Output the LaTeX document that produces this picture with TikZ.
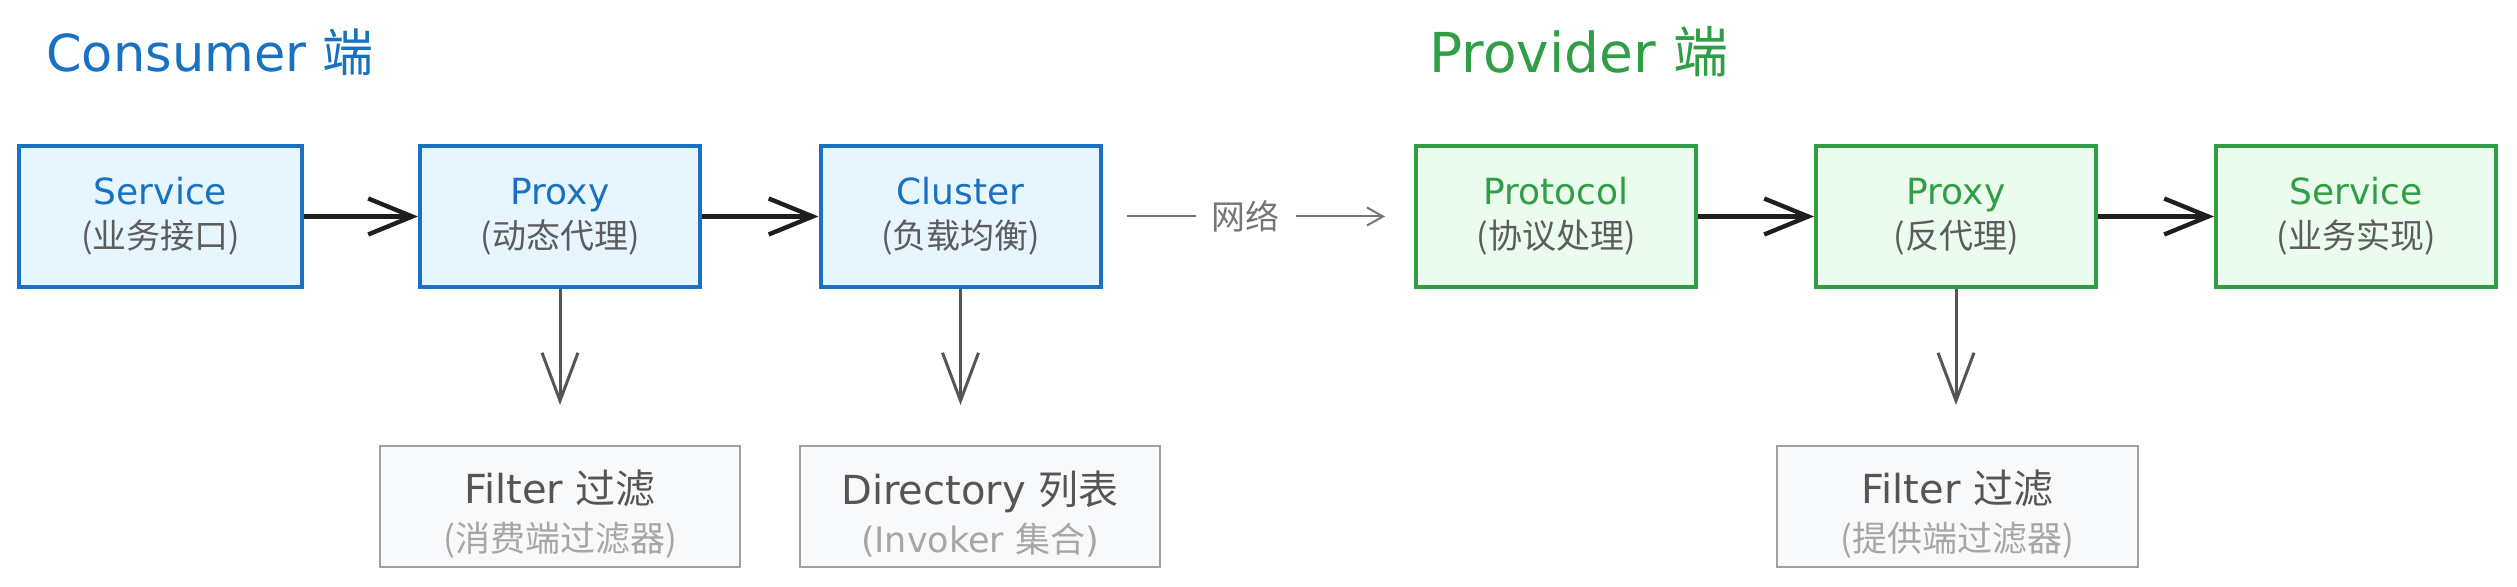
\documentclass[tikz,border=0pt]{standalone}
\usepackage{fontspec}
\setmainfont{DejaVu Sans}
\newfontfamily\cjk{Noto Sans CJK SC}
\usetikzlibrary{arrows.meta}
\definecolor{cblue}{HTML}{1971C2}
\definecolor{cbluefill}{HTML}{E7F5FF}
\definecolor{cgreen}{HTML}{2F9E44}
\definecolor{cgreenfill}{HTML}{EBFBEE}
\definecolor{subgray}{HTML}{5C5C5C}
\definecolor{boxgray}{HTML}{A0A0A0}
\definecolor{boxfill}{HTML}{F8F9FA}
\definecolor{dark}{HTML}{1E1E1E}
\definecolor{midgray}{HTML}{555555}
\definecolor{netgray}{HTML}{757575}
\definecolor{lightsub}{HTML}{A6A6A6}
\newcommand{\subtxt}[1]{{\cjk\fontsize{17pt}{22pt}\selectfont\color{subgray}#1}}
\newcommand{\lsubtxt}[1]{{\fontsize{17.5pt}{24pt}\selectfont\color{lightsub}#1}}
\newcommand{\lowstrut}{\rule{0pt}{24pt}}
\begin{document}
\begin{tikzpicture}[x=0.5pt,y=-0.5pt,
  base/.style={rectangle, minimum height=70.5pt, align=center, inner sep=0pt,
    font=\fontsize{18pt}{22pt}\selectfont},
  cbox/.style={base, draw=cblue, fill=cbluefill, line width=2pt, minimum width=140pt, text=cblue},
  pbox/.style={base, draw=cgreen, fill=cgreenfill, line width=2pt, minimum width=140pt, text=cgreen},
  gbox/.style={base, draw=boxgray, fill=boxfill, line width=1pt, minimum width=180pt,
    minimum height=60.5pt, text=midgray, font=\fontsize{20pt}{24pt}\selectfont},
  flow/.style={draw=dark, line width=2.4pt,
    -{Straight Barb[length=22pt,width=18pt,line width=2.2pt]}},
  down/.style={draw=midgray, line width=1.5pt,
    -{Straight Barb[length=24pt,width=18pt,line width=1.5pt]}, shorten >=20pt},
  net/.style={draw=netgray, line width=1pt,
    -{Straight Barb[length=8pt,width=9pt,line width=1pt]}, shorten <=12pt, shorten >=14.5pt},
  netlabel/.style={fill=white, text=netgray, inner xsep=8pt, inner ysep=2pt,
    font=\cjk\fontsize{17pt}{20pt}\selectfont},
  title/.style={anchor=west, inner sep=0pt}
]
\useasboundingbox (0,0) rectangle (2517,587);

% titles
\node[title, text=cblue, font=\fontsize{25.5pt}{30pt}\selectfont] (tc) at (46,52) {Consumer {\cjk 端}};
\node[title, text=cgreen, font=\fontsize{27.5pt}{30pt}\selectfont] (tp) at (1429,52) {Provider {\cjk 端}};

% consumer boxes
\node[cbox, minimum width=141.5pt] (cService) at (160.5,216.5) {Service\\\subtxt{(业务接口)}};
\node[cbox] (cProxy) at (560,216.5) {Proxy\\\subtxt{(动态代理)}};
\node[cbox] (cCluster) at (960.5,216.5) {Cluster\\\subtxt{(负载均衡)}};

% provider boxes
\node[pbox] (pProtocol) at (1556,216.5) {Protocol\\\subtxt{(协议处理)}};
\node[pbox] (pProxy) at (1956,216.5) {Proxy\\\subtxt{(反代理)}};
\node[pbox] (pService) at (2356,216.5) {Service\\\subtxt{(业务实现)}};

% bottom boxes
\node[gbox] (cFilter) at (560,506.5) {\lowstrut Filter {\cjk 过滤}\\\lsubtxt{\cjk(消费端过滤器)}};
\node[gbox] (cDir) at (980,506.5) {\lowstrut Directory {\cjk 列表}\\\lsubtxt{(Invoker {\cjk 集合})}};
\node[gbox, minimum width=180.5pt] (pFilter) at (1957.5,506.5) {\lowstrut Filter {\cjk 过滤}\\\lsubtxt{\cjk(提供端过滤器)}};

% flows
\draw[flow] (cService) -- (cProxy);
\draw[flow] (cProxy) -- (cCluster);
\draw[flow] (pProtocol) -- (pProxy);
\draw[flow] (pProxy) -- (pService);

\draw[down] (cProxy) -- (cProxy |- cFilter.north);
\draw[down] (cCluster) -- (cCluster |- cDir.north);
\draw[down] (pProxy) -- (pProxy |- pFilter.north);

\draw[net] (cCluster) -- node[netlabel, pos=0.46] (netl) {网络} (pProtocol);
\end{tikzpicture}
\end{document}
